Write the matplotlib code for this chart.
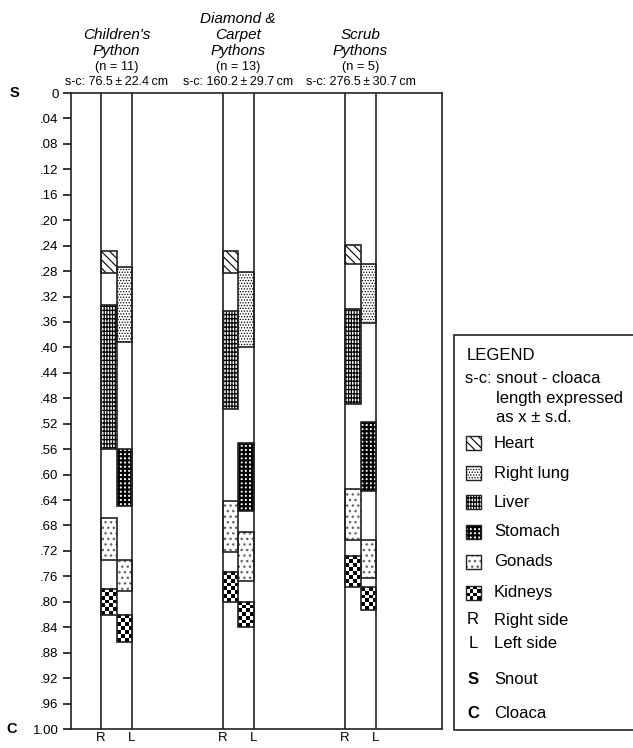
import matplotlib
matplotlib.use('Agg')
import matplotlib.pyplot as plt
from matplotlib.patches import Rectangle
import numpy as np

plt.rcParams['font.family'] = ['Liberation Sans', 'DejaVu Sans']

# species columns
species = ["Children's\nPython", "Diamond &\nCarpet\nPythons", "Scrub\nPythons"]
n_counts = [11, 13, 5]
sc_mean = [76.5, 160.2, 276.5]
sc_sd = [22.4, 29.7, 30.7]

organs = ['Heart', 'Right lung', 'Liver', 'Stomach', 'Gonads', 'Kidneys', 'Gonads', 'Kidneys']
sides = ['R', 'L', 'R', 'L', 'R', 'R', 'L', 'L']

# relative position along snout (0) - cloaca (1): start, end per organ entry
children_start = [0.248, 0.273, 0.333, 0.559, 0.669, 0.780, 0.734, 0.820]
children_end = [0.283, 0.392, 0.560, 0.650, 0.734, 0.821, 0.783, 0.863]
diamond_start = [0.248, 0.282, 0.342, 0.551, 0.641, 0.753, 0.691, 0.800]
diamond_end = [0.283, 0.399, 0.497, 0.658, 0.722, 0.801, 0.768, 0.840]
scrub_start = [0.239, 0.269, 0.340, 0.518, 0.622, 0.728, 0.703, 0.777]
scrub_end = [0.269, 0.361, 0.489, 0.626, 0.703, 0.777, 0.763, 0.813]

starts = [children_start, diamond_start, scrub_start]
ends = [children_end, diamond_end, scrub_end]

yticks = np.round(np.arange(0, 1.0001, 0.04), 2)
ytick_labels = ['0'] + ['.%02d' % int(round(v * 100)) for v in yticks[1:-1]] + ['1.00']

legend_items = ['Heart', 'Right lung', 'Liver', 'Stomach', 'Gonads', 'Kidneys']

# styles: hatch, hatch colour, hatch linewidth
styles = {
    'Heart': ('\\\\\\\\', 'black', 0.8),
    'Right lung': ('......', 'black', 0.6),
    'Liver': ('++++||', 'black', 0.9),
    'Stomach': ('++++', 'black', 1.6),
    'Gonads': ('...', '#666666', 1.0),
    'Kidneys': (None, 'black', 1.0),
}

W, H = 633, 748
fig = plt.figure(figsize=(W / 100, H / 100), dpi=100)
ax_l, ax_r, ax_t, ax_b = 71, 442, 93, 729
ax = fig.add_axes([ax_l / W, 1 - ax_b / H, (ax_r - ax_l) / W, (ax_b - ax_t) / H])
ax.set_xlim(0, ax_r - ax_l)
ax.set_ylim(1, 0)
px_per_unit = ax_b - ax_t

col_left = [30, 151.7, 274]
half = 15.5


def checker(a, x0, x1, y0, y1, hpx, cell=3.8, zorder=3):
    nx = max(2, int(round((x1 - x0) / cell)))
    ny = max(2, int(round(hpx / cell)))
    arr = (np.indices((ny, nx)).sum(axis=0) % 2).astype(float)
    a.imshow(arr, cmap='gray', extent=(x0, x1, y1, y0), aspect='auto',
             interpolation='nearest', zorder=zorder, vmin=0, vmax=1)


def organ_box(a, x, y, w, h, organ, hpx, lw=1.2):
    hatch, hc, hlw = styles[organ]
    a.add_patch(Rectangle((x, y), w, h, facecolor='white', edgecolor='none', zorder=2))
    if organ == 'Kidneys':
        checker(a, x, x + w, y, y + h, hpx)
    else:
        with plt.rc_context({'hatch.linewidth': hlw}):
            a.add_patch(Rectangle((x, y), w, h, facecolor='none', edgecolor=hc,
                                  linewidth=0, hatch=hatch, zorder=3))
    a.add_patch(Rectangle((x, y), w, h, facecolor='none', edgecolor='#222222',
                          linewidth=lw, zorder=4))


for i in range(len(species)):
    xl = col_left[i]
    ax.axvline(xl, color='#222222', lw=1.2, zorder=5)
    ax.axvline(xl + 2 * half, color='#222222', lw=1.2, zorder=5)
    for j in range(len(organs)):
        x = xl if sides[j] == 'R' else xl + half
        y0, y1 = starts[i][j], ends[i][j]
        organ_box(ax, x, y0, half, y1 - y0, organs[j], (y1 - y0) * px_per_unit)

ax.set_yticks(yticks)
ax.set_yticklabels(ytick_labels, fontsize=9.5)
ax.tick_params(axis='y', direction='out', length=6, width=1.1, pad=3)
ax.set_xticks([c + d for c in col_left for d in (0, 2 * half)])
ax.set_xticklabels(['R', 'L'] * 3, fontsize=9.5)
ax.tick_params(axis='x', length=0, pad=2)
for s in ax.spines.values():
    s.set_linewidth(1.2)
    s.set_color('#222222')

# overlay in pixel coordinates for headers and legend
ov = fig.add_axes([0, 0, 1, 1], facecolor='none')
ov.set_xlim(0, W)
ov.set_ylim(H, 0)
ov.axis('off')

ov.text(14, ax_t, 'S', fontsize=10.5, fontweight='bold', ha='center', va='center')
ov.text(12, ax_b, 'C', fontsize=10.5, fontweight='bold', ha='center', va='center')

for i in range(len(species)):
    cx = ax_l + col_left[i] + half
    ov.text(cx, 55, species[i], fontsize=11, style='italic', ha='center', va='baseline',
            linespacing=1.18)
    ov.text(cx, 67, '(n = %d)' % n_counts[i], fontsize=9.2, ha='center', va='center')
    ov.text(cx, 82, 's-c: %.1f\u2009\u00b1\u2009%.1f\u2009cm' % (sc_mean[i], sc_sd[i]),
            fontsize=9, ha='center', va='center')

# legend box
ov.add_patch(Rectangle((454, 335), 200, 395, facecolor='white', edgecolor='#222222',
                       linewidth=1.2, zorder=1, clip_on=False))
fs = 12
ov.text(467, 355, 'LEGEND', fontsize=fs, va='center')
ov.text(465, 378, 's-c: snout - cloaca', fontsize=fs, va='center')
ov.text(496, 398, 'length expressed', fontsize=fs, va='center')
ov.text(496, 417, 'as x \u00b1 s.d.', fontsize=fs, va='center')
leg_y = [443, 473, 502, 532, 562, 593]
for k, name in enumerate(legend_items):
    yc = leg_y[k]
    organ_box(ov, 466, yc - 7, 15, 14, name, 14, lw=1.0)
    ov.text(494, yc, name, fontsize=fs, va='center')
ov.text(473, 620, 'R', fontsize=fs, ha='center', va='center')
ov.text(494, 620, 'Right side', fontsize=fs, va='center')
ov.text(473, 643, 'L', fontsize=fs, ha='center', va='center')
ov.text(494, 643, 'Left side', fontsize=fs, va='center')
ov.text(473, 679, 'S', fontsize=fs, fontweight='bold', ha='center', va='center')
ov.text(494, 679, 'Snout', fontsize=fs, va='center')
ov.text(473, 713, 'C', fontsize=fs, fontweight='bold', ha='center', va='center')
ov.text(494, 713, 'Cloaca', fontsize=fs, va='center')

fig.savefig('out.png', dpi=100)
